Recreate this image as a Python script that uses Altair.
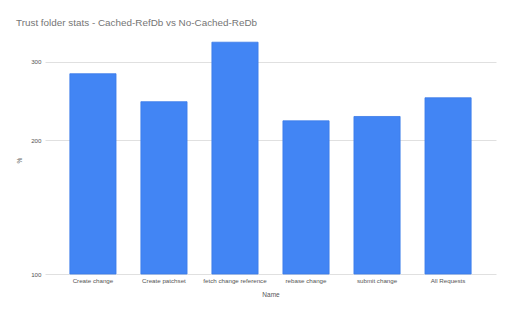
import altair as alt
import pandas as pd

names = ["Create change", "Create patchset", "fetch change reference",
         "rebase change", "submit change", "All Requests"]
values = [282, 244, 332, 221, 226, 249]
base = [100] * len(names)

df = pd.DataFrame({"Name": names, "value": values, "base": base})

FONT = "Liberation Sans"

chart = alt.Chart(df).mark_bar(
    color="#4285F4", stroke="#3b7be8", strokeWidth=0.8
).encode(
    x=alt.X("Name:N", sort=names,
            scale=alt.Scale(paddingInner=0.35, paddingOuter=0.35),
            axis=alt.Axis(labelAngle=0, ticks=False, domain=False,
                          labelFontSize=6.2, labelColor="#555555",
                          labelPadding=3, title="Name", titleFontSize=6.5,
                          titleFontWeight="normal", titleColor="#555555",
                          titlePadding=8, labelFont=FONT, titleFont=FONT)),
    y=alt.Y("value:Q",
            scale=alt.Scale(type="log", domain=[100, 350], nice=False),
            axis=alt.Axis(values=[100, 200, 300], format="d", ticks=False,
                          domain=False, labelFontSize=6.2, labelColor="#555555",
                          labelPadding=4, title="%", titleFontSize=6.5,
                          titleFontWeight="normal", titleColor="#555555",
                          titlePadding=8, titleY=128, gridColor="#e0e0e0",
                          labelFont=FONT, titleFont=FONT)),
    y2="base:Q",
).properties(
    width=451,
    height=242,
    title=alt.TitleParams(
        "Trust folder stats - Cached-RefDb vs No-Cached-ReDb",
        anchor="start", frame="group", fontSize=9.9, fontWeight="normal",
        color="#757575", font=FONT, dx=-29, offset=4),
    autosize=alt.AutoSizeParams(type="none"),
    padding={"left": 45, "top": 32, "right": 16, "bottom": 42},
).configure_view(stroke=None)

chart.save("out.html", embed_options={"renderer": "svg", "actions": False})
